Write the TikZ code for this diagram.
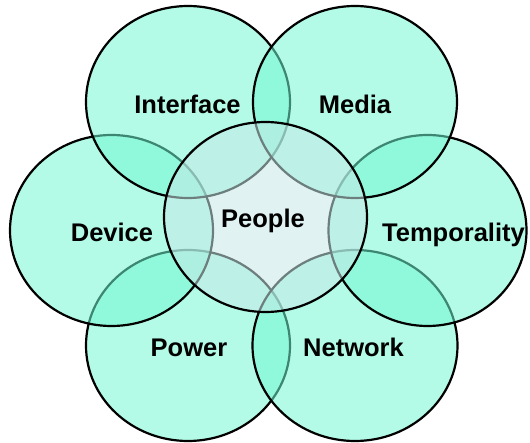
\documentclass[tikz,border=0pt]{standalone}
\usepackage{fontspec}
\setmainfont{Liberation Sans}
\definecolor{petalc}{RGB}{114,248,209}
\definecolor{corec}{RGB}{199,231,231}
\begin{document}
\begin{tikzpicture}[x=1pt,y=-1pt,
  petal/.style={fill=petalc, fill opacity=0.54, draw=black, line width=2.2pt},
  core/.style={fill=corec, fill opacity=0.55, draw=black, line width=2.2pt},
  lbl/.style={font=\fontsize{25.5}{30}\selectfont\bfseries, anchor=base, inner sep=0pt}]
\useasboundingbox (0,0) rectangle (530,443);
% draw order reproduces which outlines lie under which fills
\draw[petal] (188,345.5) ellipse [x radius=102pt, y radius=95.5pt];   % Power
\draw[petal] (355,345.5) ellipse [x radius=102.5pt, y radius=95.5pt]; % Network
\draw[petal] (427.5,230.5) ellipse [x radius=99pt, y radius=95.5pt];  % Temporality
\draw[petal] (111.5,230.5) ellipse [x radius=101.5pt, y radius=95.5pt]; % Device
\draw[petal] (188,102) ellipse [x radius=102pt, y radius=96pt];     % Interface
\draw[petal] (355,102) ellipse [x radius=102pt, y radius=96pt];     % Media
\draw[core] (265.5,217) ellipse [x radius=101.5pt, y radius=95pt];  % People
\node[lbl] (interface) at (187.5,114) {Interface};
\node[lbl] (media) at (355,114) {Media};
\node[lbl] (device) at (112,242) {Device};
\node[lbl] (temporality) at (453.5,242) {Temporality};
\node[lbl] (people) at (263,228) {People};
\node[lbl] (power) at (189,357) {Power};
\node[lbl] (network) at (353.5,357) {Network};
\end{tikzpicture}
\end{document}
